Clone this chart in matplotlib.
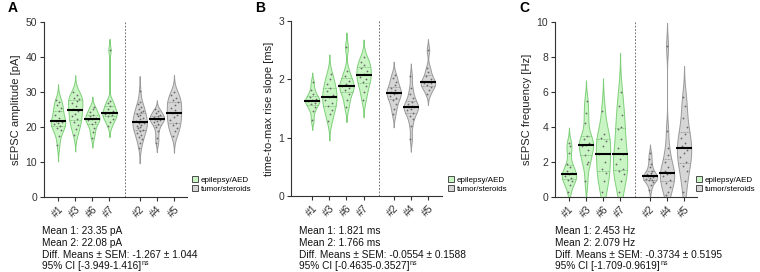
import numpy as np
import matplotlib
matplotlib.use("Agg")
import matplotlib.pyplot as plt
from matplotlib.patches import Patch

plt.rcParams["font.family"] = ["Liberation Sans", "DejaVu Sans"]

groups = ["#1", "#3", "#6", "#7", "#2", "#4", "#5"]
cohorts = ["epilepsy/AED", "epilepsy/AED", "epilepsy/AED", "epilepsy/AED",
           "tumor/steroids", "tumor/steroids", "tumor/steroids"]

amp_1 = [14.8, 17.5, 19.2, 19.8, 20.3, 20.8, 21.2, 21.5, 21.8, 22.5, 23.4, 24.5, 25.3, 26.2, 27.0, 27.6]
amp_3 = [17.8, 19.5, 20.6, 21.4, 22.2, 23.0, 23.8, 24.5, 25.2, 26.0, 26.8, 27.5, 28.0, 28.4, 29.0, 30.0]
amp_6 = [17.0, 18.6, 19.8, 20.8, 21.5, 22.0, 22.3, 22.6, 23.0, 23.5, 24.2, 25.0, 25.8]
amp_7 = [20.3, 21.5, 22.3, 23.0, 23.5, 23.7, 24.0, 24.6, 25.2, 26.0, 26.8, 27.5, 42.0]
amp_2 = [14.0, 15.5, 16.5, 17.2, 17.8, 18.3, 18.8, 19.2, 19.6, 20.0, 20.3, 20.6, 21.0, 21.2,
         21.4, 21.8, 22.2, 22.6, 23.0, 23.4, 23.8, 24.2, 24.7, 25.2, 25.8, 26.5, 27.2, 30.2]
amp_4 = [15.5, 17.0, 18.8, 20.0, 20.8, 21.4, 21.8, 22.0, 22.3, 22.5, 22.8, 23.1, 23.5, 24.0, 24.5, 25.0]
amp_5 = [17.5, 18.8, 19.8, 20.5, 21.2, 22.0, 22.8, 23.5, 24.0, 24.8, 25.5, 26.2, 27.0, 27.6, 28.3, 29.0, 30.0]

rise_1 = [1.30, 1.45, 1.52, 1.57, 1.60, 1.63, 1.64, 1.66, 1.70, 1.75, 1.82, 1.95]
rise_3 = [1.28, 1.40, 1.48, 1.55, 1.60, 1.65, 1.70, 1.74, 1.80, 1.86, 1.92, 2.00, 2.10]
rise_6 = [1.52, 1.65, 1.75, 1.82, 1.86, 1.88, 1.92, 1.98, 2.05, 2.15, 2.55]
rise_7 = [1.65, 1.78, 1.88, 1.95, 2.00, 2.04, 2.10, 2.15, 2.20, 2.25, 2.30, 2.38]
rise_2 = [1.40, 1.50, 1.58, 1.64, 1.68, 1.72, 1.75, 1.77, 1.79, 1.82, 1.85, 1.90, 1.96, 2.02, 2.08]
rise_4 = [0.98, 1.20, 1.32, 1.38, 1.43, 1.47, 1.50, 1.52, 1.53, 1.55, 1.58, 1.62, 1.68, 1.75, 1.85, 2.05]
rise_5 = [1.75, 1.82, 1.87, 1.90, 1.93, 1.94, 1.96, 2.00, 2.05, 2.12, 2.20, 2.50]

freq_1 = [0.3, 0.7, 0.9, 1.0, 1.1, 1.2, 1.3, 1.35, 1.5, 1.7, 1.9, 2.5, 2.9, 3.1]
freq_3 = [0.9, 1.9, 2.0, 2.4, 2.7, 2.9, 3.0, 3.1, 3.3, 3.5, 4.2, 4.8, 5.5]
freq_6 = [0.3, 0.9, 1.4, 1.6, 2.0, 2.45, 2.9, 3.2, 3.4, 3.6, 4.9]
freq_7 = [0.3, 0.9, 1.3, 1.5, 1.6, 1.9, 2.2, 2.45, 2.8, 3.3, 3.9, 4.0, 4.7, 5.2, 6.0]
freq_2 = [0.4, 0.7, 0.85, 0.95, 1.0, 1.05, 1.1, 1.15, 1.2, 1.25, 1.3, 1.4, 1.5, 1.7, 1.9, 2.2, 2.5]
freq_4 = [0.1, 0.3, 0.6, 0.8, 1.0, 1.2, 1.3, 1.38, 1.5, 1.7, 2.0, 2.4, 2.8, 3.8, 8.6]
freq_5 = [0.3, 0.9, 1.5, 1.8, 2.0, 2.3, 2.5, 2.7, 2.9, 3.1, 3.4, 3.6, 4.0, 4.5, 5.2, 5.7]

amp_data = [amp_1, amp_3, amp_6, amp_7, amp_2, amp_4, amp_5]
rise_data = [rise_1, rise_3, rise_6, rise_7, rise_2, rise_4, rise_5]
freq_data = [freq_1, freq_3, freq_6, freq_7, freq_2, freq_4, freq_5]

amp_stats = ["Mean 1: 23.35 pA", "Mean 2: 22.08 pA",
             "Diff. Means \u00b1 SEM: -1.267 \u00b1 1.044", "95% CI [-3.949-1.416]"]
rise_stats = ["Mean 1: 1.821 ms", "Mean 2: 1.766 ms",
              "Diff. Means \u00b1 SEM: -0.0554 \u00b1 0.1588", "95% CI [-0.4635-0.3527]"]
freq_stats = ["Mean 1: 2.453 Hz", "Mean 2: 2.079 Hz",
              "Diff. Means \u00b1 SEM: -0.3734 \u00b1 0.5195", "95% CI [-1.709-0.9619]"]

POS = [1, 2, 3, 4, 5.76, 6.76, 7.76]
STYLE = {
    "epilepsy/AED": dict(face="#c9f5c4", edge="#7fcf7a", q="#4f9f4a"),
    "tumor/steroids": dict(face="#d6d6d6", edge="#9a9a9a", q="#6e6e6e"),
}
W = 760.0
H = 272.0


def kde(vals, grid, bw):
    v = np.asarray(vals)[:, None]
    return np.exp(-0.5 * ((grid[None, :] - v) / bw) ** 2).sum(axis=0)


def violin(ax, x, vals, cohort, half=0.42):
    st = STYLE[cohort]
    v = np.asarray(vals, dtype=float)
    q1, med, q3 = np.percentile(v, [25, 50, 75])
    spread = min(np.std(v), (q3 - q1) / 1.34)
    bw = 0.95 * spread * len(v) ** (-0.2)
    grid = np.linspace(max(v.min() - 2.5 * bw, 0), v.max() + 2.5 * bw, 400)
    d = kde(v, grid, bw)
    d = d / d.max() * half
    ax.fill_betweenx(grid, x - d, x + d, facecolor=st["face"], edgecolor=st["edge"],
                     lw=0.7, zorder=2)
    for q in (q1, q3):
        w = np.interp(q, grid, d)
        ax.plot([x - w, x + w], [q, q], color=st["q"], lw=0.5, ls=(0, (1, 1.2)), zorder=3)
    pattern = [-0.55, 0.25, 0.7, -0.2, 0.45, -0.7, 0.0, 0.6, -0.4, 0.15]
    order = np.argsort(v)
    for k, i in enumerate(order):
        w = np.interp(v[i], grid, d)
        ax.plot(x + pattern[k % len(pattern)] * w * 0.8, v[i], "o", ms=1.3,
                color="#6a6a6a", mec="none", zorder=4)
    w = np.interp(med, grid, d)
    ax.plot([x - w - 0.05, x + w + 0.05], [med, med], color="black", lw=1.5, zorder=5,
            solid_capstyle="butt")


def panel(box, letter, data, ylab, ymax, ystep, xlim, stats, text_x, legend_x):
    left, right, top, bottom = box
    ax = fig.add_axes([left / W, 1 - bottom / H, (right - left) / W, (bottom - top) / H])
    for x, vals, c in zip(POS, data, cohorts):
        violin(ax, x, vals, c)
    ax.axvline((POS[3] + POS[4]) / 2, color="#555555", lw=0.6, ls=(0, (2, 2)), zorder=1)
    ax.set_xlim(*xlim)
    ax.set_ylim(0, ymax)
    ax.set_yticks(np.arange(0, ymax + ystep / 2, ystep))
    ax.set_xticks(POS)
    ax.set_xticklabels(groups, rotation=45, ha="right", rotation_mode="anchor")
    for s in ("top", "right"):
        ax.spines[s].set_visible(False)
    for s in ("left", "bottom"):
        ax.spines[s].set_color("#333333")
        ax.spines[s].set_linewidth(0.8)
    ax.tick_params(axis="both", labelsize=7.5, length=3, width=0.8, color="#333333",
                   labelcolor="#333333", pad=2)
    ax.set_ylabel(ylab, fontsize=8, color="#222222", labelpad=3)
    fig.text((left - 36) / W, 1 - 8 / H, letter, fontsize=10, fontweight="bold",
             va="center", ha="left")
    for i, line in enumerate(stats):
        fig.text(text_x / W, 1 - (234 + 11.8 * i) / H, line, fontsize=7.3,
                 va="baseline", ha="left", color="#111111")
    handles = [Patch(facecolor=STYLE[c]["face"], edgecolor="#333333", lw=0.6, label=c)
               for c in ("epilepsy/AED", "tumor/steroids")]
    fig.legend(handles=handles, loc="upper left", bbox_to_anchor=(legend_x / W, 1 - 176 / H),
               frameon=False, fontsize=5.8, handlelength=0.8, handleheight=0.8,
               handletextpad=0.3, labelspacing=0.15, borderpad=0, borderaxespad=0)
    return ax


fig = plt.figure(figsize=(W / 100, H / 100), dpi=100)
fig.canvas.draw()

panels = [
    ((44, 187, 22, 197), "A", amp_data, "sEPSC amplitude [pA]", 50, 10, (0.18, 8.52), amp_stats, 42, 192),
    ((291, 442, 21, 196), "B", rise_data, "time-to-max rise slope [ms]", 3, 1, (-0.24, 8.58), rise_stats, 299, 448),
    ((555, 697, 22, 197), "C", freq_data, "sEPSC frequency [Hz]", 10, 2, (0.18, 8.52), freq_stats, 555, 696),
]
for p in panels:
    panel(*p)

# superscript "ns" after the CI line
renderer = fig.canvas.get_renderer()
for t in list(fig.texts):
    if t.get_text().startswith("95% CI"):
        bb = t.get_window_extent(renderer)
        x1 = bb.x1 / W
        y = t.get_position()[1] + 4 / H
        fig.text(x1 + 0.5 / W, y, "ns", fontsize=5, va="baseline", ha="left", color="#111111")

fig.savefig("out.png", dpi=100)
